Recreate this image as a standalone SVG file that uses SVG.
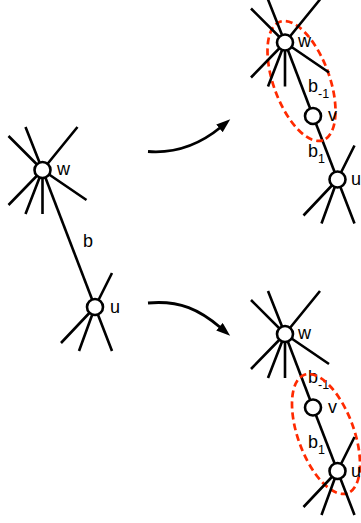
<svg xmlns="http://www.w3.org/2000/svg" width="361" height="523" viewBox="0 0 361 523">
<style>
.sp{stroke:#000;stroke-width:2.6;fill:none;stroke-linecap:butt}
.nd{fill:#fff;stroke:#000;stroke-width:2.6}
.ed{stroke:#000;stroke-width:2.6;fill:none}
.ar{stroke:#000;stroke-width:2.8;fill:none}
.el{fill:none;stroke:#ff2a00;stroke-width:2.7;stroke-dasharray:7,4}
text{font-family:"Liberation Sans",Arial,sans-serif;font-size:18px;fill:#000}
.sub{font-size:12.5px}
</style>
<defs>
<marker id="ah" markerUnits="userSpaceOnUse" markerWidth="16" markerHeight="12" refX="2" refY="5" orient="auto">
<path d="M0,0 L14,5 L0,10 z" fill="#000"/>
</marker>
</defs>
<g id="connectors">
<line class="ed" x1="42.5" y1="170" x2="95" y2="307"/>
<line class="ed" x1="285" y1="42.5" x2="313" y2="116"/>
<line class="ed" x1="313" y1="116" x2="337.5" y2="179.5"/>
<line class="ed" x1="285" y1="334" x2="313" y2="407.5"/>
<line class="ed" x1="313" y1="407.5" x2="337.5" y2="471"/>
<path class="ar" d="M148,151.5 C180,154 204,141 221,127" marker-end="url(#ah)"/>
<path class="ar" d="M148,303 C180,300 200,310 221,328" marker-end="url(#ah)"/>
</g>
<g id="edge-labels">
<text x="83" y="247">b</text>
<text x="308" y="92">b<tspan class="sub" dy="6">-1</tspan></text>
<text x="308" y="157">b<tspan class="sub" dy="6">1</tspan></text>
<text x="308" y="383">b<tspan class="sub" dy="6">-1</tspan></text>
<text x="308" y="448">b<tspan class="sub" dy="6">1</tspan></text>
</g>
<g id="groupings">
<ellipse class="el" cx="0" cy="0" rx="63" ry="28" transform="translate(301.5,81) rotate(70)"/>
<ellipse class="el" cx="0" cy="0" rx="63" ry="28" transform="translate(326,434) rotate(70)"/>
</g>
<g id="left-w">
<path class="sp" d="M42.5,170 l-34,-34 M42.5,170 l-17,-43 M42.5,170 l35,-43 M42.5,170 l-34,35 M42.5,170 l-17,44 M42.5,170 l0,44 M42.5,170 l44,30"/>
<circle class="nd" cx="42.5" cy="170" r="8"/>
<text x="57" y="175">w</text>
</g>
<g id="left-u">
<path class="sp" d="M95,307 l17,-34 M95,307 l-34,36 M95,307 l-16,44 M95,307 l17,44"/>
<circle class="nd" cx="95" cy="307" r="8"/>
<text x="110" y="313">u</text>
</g>
<g id="top-w">
<path class="sp" d="M285,42.5 l-34,-34 M285,42.5 l-17,-43 M285,42.5 l35,-43 M285,42.5 l-34,35 M285,42.5 l-17,44 M285,42.5 l0,44 M285,42.5 l44,30"/>
<circle class="nd" cx="285" cy="42.5" r="8"/>
<text x="298" y="47">w</text>
</g>
<g id="top-v">
<circle class="nd" cx="313" cy="116" r="8"/>
<text x="328" y="121">v</text>
</g>
<g id="top-u">
<path class="sp" d="M337.5,179.5 l17,-34 M337.5,179.5 l-34,36 M337.5,179.5 l-16,44 M337.5,179.5 l17,44"/>
<circle class="nd" cx="337.5" cy="179.5" r="8"/>
<text x="351" y="185">u</text>
</g>
<g id="bottom-w">
<path class="sp" d="M285,334 l-34,-34 M285,334 l-17,-43 M285,334 l35,-43 M285,334 l-34,35 M285,334 l-17,44 M285,334 l0,44 M285,334 l44,30"/>
<circle class="nd" cx="285" cy="334" r="8"/>
<text x="298" y="339">w</text>
</g>
<g id="bottom-v">
<circle class="nd" cx="313" cy="407.5" r="8"/>
<text x="328" y="413">v</text>
</g>
<g id="bottom-u">
<path class="sp" d="M337.5,471 l17,-34 M337.5,471 l-34,36 M337.5,471 l-16,44 M337.5,471 l17,44"/>
<circle class="nd" cx="337.5" cy="471" r="8"/>
<text x="351" y="477">u</text>
</g>
</svg>
